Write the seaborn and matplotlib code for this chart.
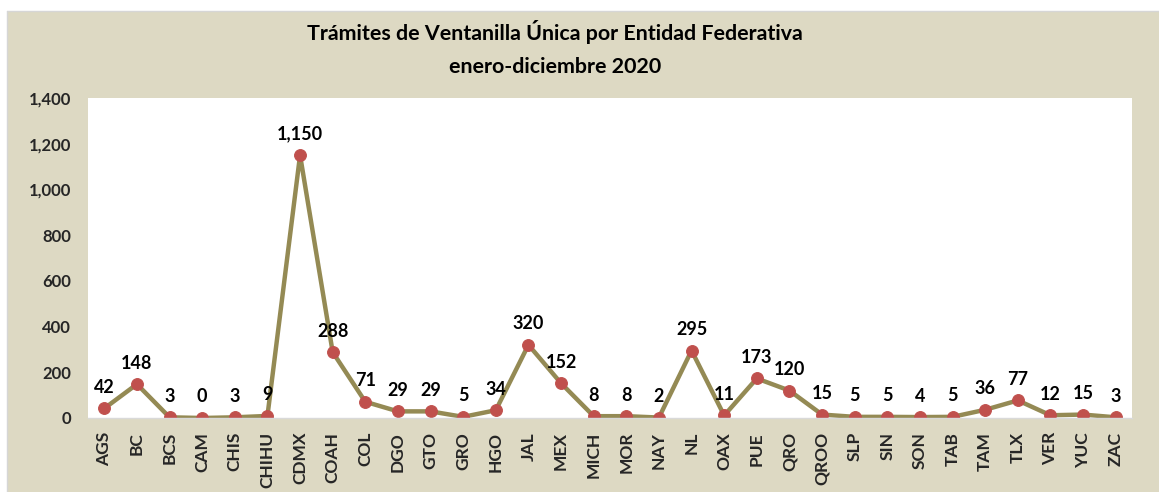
import matplotlib
matplotlib.use("Agg")
import matplotlib.pyplot as plt
from matplotlib.patches import Rectangle
import seaborn as sns
import pandas as pd

estados = ["AGS", "BC", "BCS", "CAM", "CHIS", "CHIHU", "CDMX", "COAH", "COL", "DGO",
           "GTO", "GRO", "HGO", "JAL", "MEX", "MICH", "MOR", "NAY", "NL", "OAX",
           "PUE", "QRO", "QROO", "SLP", "SIN", "SON", "TAB", "TAM", "TLX", "VER",
           "YUC", "ZAC"]
tramites = [42, 148, 3, 0, 3, 9, 1150, 288, 71, 29,
            29, 5, 34, 320, 152, 8, 8, 2, 295, 11,
            173, 120, 15, 5, 5, 4, 5, 36, 77, 12,
            15, 3]
titulo = "Trámites de Ventanilla Única por Entidad Federativa"
subtitulo = "enero-diciembre 2020"
y_ticks = [0, 200, 400, 600, 800, 1000, 1200, 1400]

BEIGE = "#DDD9C3"
OLIVE = "#948A54"
RED = "#C0504D"

sns.set_theme(style="white")
plt.rcParams["font.family"] = ["Lato", "DejaVu Sans"]
plt.rcParams["font.weight"] = "bold"

df = pd.DataFrame({"estado": estados, "tramites": tramites})

W, H = 1159, 492
fig = plt.figure(figsize=(W / 100, H / 100), dpi=100)
fig.patch.set_facecolor("white")

# beige chart panel with thin grey border on top/left
panel = Rectangle((7 / W, 0), 1 - 7 / W, 1 - 11 / H, transform=fig.transFigure,
                  facecolor=BEIGE, edgecolor="none", zorder=-2)
fig.patches.append(panel)
fig.add_artist(plt.Line2D([6.5 / W, 1], [1 - 10.5 / H, 1 - 10.5 / H],
                          transform=fig.transFigure, color="#D6D6D6", lw=1, zorder=-1))
fig.add_artist(plt.Line2D([6.5 / W, 6.5 / W], [0, 1 - 10.5 / H],
                          transform=fig.transFigure, color="#D6D6D6", lw=1, zorder=-1))

left, right, top, bottom = 88, 1132, 98, 418
ax = fig.add_axes([left / W, 1 - bottom / H, (right - left) / W, (bottom - top) / H])
ax.set_zorder(1)
ax.set_facecolor("white")

sns.lineplot(data=df, x="estado", y="tramites", sort=False, errorbar=None,
             color=OLIVE, linewidth=3.2, marker="o", markersize=8.5,
             markerfacecolor=RED, markeredgecolor=RED, ax=ax)

ax.set_xlim(-0.5, len(estados) - 0.5)
ax.set_ylim(0, 1400)
ax.set_yticks(y_ticks)
ax.set_yticklabels([f"{v:,}" for v in y_ticks], fontsize=12, fontweight="bold")
ax.set_xticks(range(len(estados)))
ax.set_xticklabels(estados, rotation=90, fontsize=12.5, fontweight="bold")
ax.tick_params(axis="x", length=0, pad=10)
ax.tick_params(axis="y", length=0, pad=12)
ax.set_xlabel("")
ax.set_ylabel("")
for side in ["top", "right", "left"]:
    ax.spines[side].set_visible(False)
ax.spines["bottom"].set_color("#D9D9D9")
ax.spines["bottom"].set_linewidth(1)

for i, v in enumerate(tramites):
    ax.annotate(f"{v:,}", (i, v), xytext=(0, 9), textcoords="offset points",
                ha="center", va="bottom", fontsize=13, fontweight="bold",
                color="black", annotation_clip=False)

fig.text(555 / W, 1 - 40 / H, titulo, ha="center", va="baseline",
         fontsize=15.4, fontweight="bold", color="black")
fig.text(555 / W, 1 - 73 / H, subtitulo, ha="center", va="baseline",
         fontsize=15.4, fontweight="bold", color="black")

fig.savefig("out.png", dpi=100, facecolor=fig.get_facecolor())
